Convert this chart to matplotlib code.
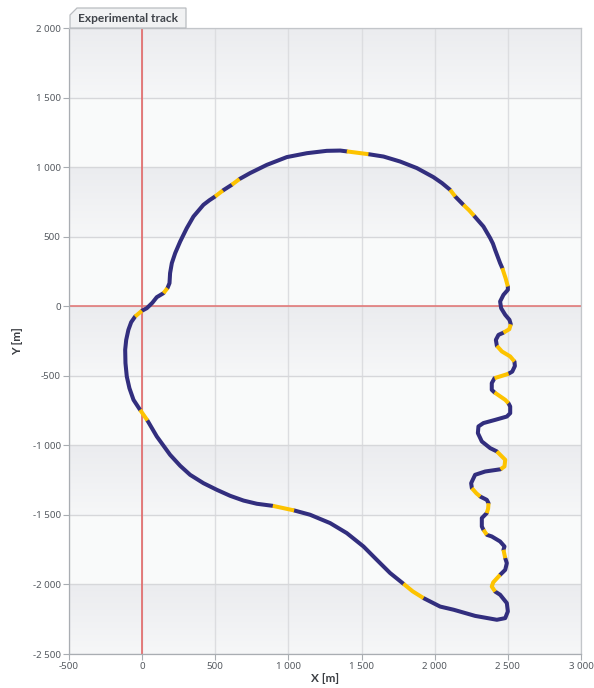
import numpy as np
import matplotlib
matplotlib.use("Agg")
import matplotlib.pyplot as plt
from matplotlib.patches import Polygon
from matplotlib.ticker import FuncFormatter

# ---- data: track points (metres) and highlight flag of the segment starting at each point
track_x = [-2, 32, 70, 100, 146, 173, 187, 191, 203, 226, 260, 305, 351, 419, 460, 499,
           552, 613, 665, 738, 852, 989, 1126, 1262, 1354, 1399, 1547, 1650, 1764, 1878,
           1991, 2050, 2105, 2140, 2196, 2235, 2269, 2333, 2379, 2398, 2413, 2447, 2462,
           2485, 2500, 2500, 2470, 2447, 2454, 2482, 2511, 2520, 2510, 2470, 2436, 2418,
           2425, 2459, 2516, 2545, 2548, 2530, 2505, 2482, 2409, 2390, 2390, 2409, 2482,
           2504, 2516, 2516, 2493, 2413, 2333, 2299, 2295, 2322, 2379, 2425, 2482, 2477,
           2450, 2345, 2276, 2249, 2254, 2285, 2311, 2356, 2368, 2365, 2356, 2322, 2322,
           2333, 2356, 2390, 2447, 2477, 2470, 2482, 2493, 2482, 2447, 2400, 2390, 2413,
           2447, 2493, 2500, 2482, 2425, 2276, 2130, 2037, 1923, 1850, 1786, 1695, 1604,
           1513, 1399, 1285, 1148, 1039, 893, 784, 693, 602, 511, 419, 328, 260, 191, 100,
           36, -14, -59, -87, -105, -114, -116, -109, -94, -75, -48, -2]
track_y = [-33, -14, 25, 65, 94, 130, 166, 238, 310, 382, 465, 561, 645, 729, 762, 789,
           832, 873, 914, 957, 1016, 1072, 1100, 1117, 1119, 1113, 1093, 1076, 1040, 993,
           928, 885, 837, 789, 729, 690, 650, 573, 490, 450, 405, 310, 274,
           200, 142, 118, 82, 34, -14, -62, -98, -130, -165, -190, -206, -242,
           -285, -325, -361, -397, -430, -470, -485, -493, -517, -553, -601, -620, -673,
           -697, -721, -769, -793, -817, -840, -864, -912, -972, -1020, -1044, -1104, -1152,
           -1172, -1188, -1212, -1272, -1308, -1345, -1368, -1392, -1416, -1455, -1487, -1523, -1583,
           -1607, -1643, -1655, -1691, -1727, -1751, -1811, -1847, -1895, -1931, -1985, -2015, -2051,
           -2074, -2134, -2194, -2242, -2254, -2226, -2182, -2159, -2098, -2050, -1995, -1918, -1823,
           -1727, -1631, -1559, -1499, -1468, -1435, -1420, -1397, -1363, -1320, -1272, -1212, -1147, -1068, -936,
           -821, -745, -673, -589, -505, -409, -313, -242, -170, -115, -74, -33]
highlight = [0, 0, 0, 0, 1, 0, 0, 0, 0, 0, 0, 0, 0, 0, 0, 1,
             0, 1, 0, 0, 0, 0, 0, 0, 0, 1, 0, 0, 0, 0,
             0, 0, 1, 0, 1, 1, 0, 0, 0, 0, 0, 0, 1,
             1, 0, 0, 0, 0, 0, 0, 0, 1, 1, 0, 0, 0,
             1, 1, 1, 0, 0, 0, 1, 1, 0, 0, 0, 1, 1,
             0, 0, 0, 0, 0, 0, 0, 0, 0, 0, 1, 1, 1,
             0, 0, 0, 0, 1, 1, 0, 0, 1, 1, 0, 0, 0,
             1, 0, 0, 0, 0, 1, 0, 0, 0, 1, 1, 1, 0,
             0, 0, 0, 0, 0, 0, 0, 0, 1, 1, 0, 0, 0,
             0, 0, 0, 0, 1, 0, 0, 0, 0, 0, 0, 0, 0, 0, 0,
             1, 0, 0, 0, 0, 0, 0, 0, 0, 0, 1, 0]

x_ticks = [-500, 0, 500, 1000, 1500, 2000, 2500, 3000]
y_ticks = [-2500, -2000, -1500, -1000, -500, 0, 500, 1000, 1500, 2000]
title = "Experimental track"
x_label = "X [m]"
y_label = "Y [m]"

DARK = "#322e7e"
YELLOW = "#fdc300"
BOLD_FONT = ["Lato", "DejaVu Sans"]

plt.rcParams["font.family"] = ["Noto Sans", "DejaVu Sans"]
fig = plt.figure(figsize=(5.94, 6.88), dpi=100)
fig.patch.set_facecolor("white")
ax = fig.add_axes([69 / 594, 1 - 654 / 688, (581 - 69) / 594, (654 - 28) / 688])

xmin, xmax = x_ticks[0], x_ticks[-1]
ymin, ymax = y_ticks[0], y_ticks[-1]

# background bands with gradients
white_band = np.ones((2, 2, 3)) * np.array([249, 250, 250]) / 255
for i in range(len(y_ticks) - 1):
    lo, hi = y_ticks[i], y_ticks[i + 1]
    if (len(y_ticks) - 2 - i) % 2 == 0:
        top = np.array([235, 236, 239]) / 255
        bot = np.array([246, 247, 248]) / 255
        grad = np.linspace(0, 1, 64)[:, None, None]
        img = top * (1 - grad) + bot * grad
        img = np.repeat(img, 2, axis=1)
        ax.imshow(img, extent=[xmin, xmax, lo, hi], aspect="auto", origin="upper",
                  zorder=0, interpolation="bilinear")
    else:
        ax.imshow(white_band, extent=[xmin, xmax, lo, hi], aspect="auto", zorder=0)

for xt in x_ticks:
    ax.axvline(xt, color="#dcdde0", lw=1.0, zorder=1)
for yt in y_ticks:
    ax.axhline(yt, color="#d6d7da", lw=1.0, zorder=1)
ax.axvline(0, color="#e25c5c", lw=1.1, zorder=2)
ax.axhline(0, color="#e27070", lw=1.1, zorder=2)

# track
xs = np.array(track_x, dtype=float)
ys = np.array(track_y, dtype=float)
n = len(xs)
runs = []
start = 0
for i in range(1, n - 1):
    if highlight[i] != highlight[start]:
        runs.append((start, i, highlight[start]))
        start = i
runs.append((start, n - 1, highlight[start]))
for s, e, h in runs:
    if h == 0:
        ax.plot(xs[s:e + 1], ys[s:e + 1], color=DARK, lw=2.9, solid_joinstyle="round",
                solid_capstyle="round", zorder=3)
for s, e, h in runs:
    if h == 1:
        ax.plot(xs[s:e + 1], ys[s:e + 1], color=YELLOW, lw=2.9, solid_joinstyle="round",
                solid_capstyle="butt", zorder=4)

ax.set_xlim(xmin, xmax)
ax.set_ylim(ymin, ymax)
ax.set_xticks(x_ticks)
ax.set_yticks(y_ticks)
fmt = FuncFormatter(lambda v, p: f"{int(v):,}".replace(",", " "))
ax.xaxis.set_major_formatter(fmt)
ax.yaxis.set_major_formatter(fmt)
ax.tick_params(axis="both", direction="out", length=4, width=0.8, color="#a9adb2",
               labelsize=7, labelcolor="#555a60", pad=2)
for side, sp in ax.spines.items():
    sp.set_color("#c3c6ca")
    sp.set_linewidth(0.9)
ax.spines["left"].set_color("#a9adb2")
ax.spines["bottom"].set_color("#a9adb2")

ax.set_xlabel(x_label, fontsize=8.5, fontweight="bold", color="#3a3d42", labelpad=1,
              family=BOLD_FONT)
ax.set_ylabel(y_label, fontsize=8.5, fontweight="bold", color="#3a3d42", labelpad=7,
              family=BOLD_FONT)

# title tab
x0, x1, y0, y1, c = 70, 186, 28, 8, 7
pts = [(x0, y0), (x0, y1 + c), (x0 + c, y1), (x1, y1), (x1, y0)]
pts_fig = [(px / 594, 1 - py / 688) for px, py in pts]
tab = Polygon(pts_fig, closed=True, transform=fig.transFigure, facecolor="#f1f2f3",
              edgecolor="#b9bcc0", lw=0.9, zorder=5)
fig.patches.append(tab)
fig.text((x0 + x1) / 2 / 594, 1 - 18.5 / 688, title, ha="center", va="center",
         fontsize=8.6, fontweight="bold", color="#40444a", family=BOLD_FONT, zorder=6)

fig.savefig("out.png", dpi=100, facecolor="white")
